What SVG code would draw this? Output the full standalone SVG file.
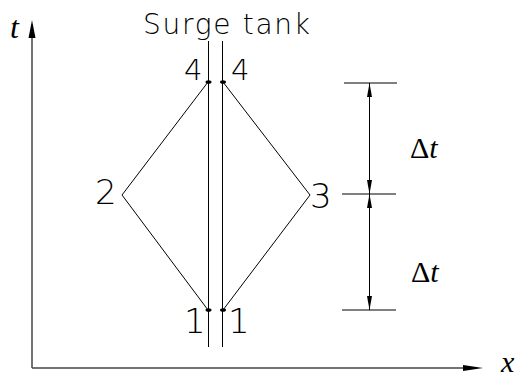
<svg xmlns="http://www.w3.org/2000/svg" width="518" height="378" viewBox="0 0 518 378">
<style>
.ln{stroke:#000;stroke-width:1;fill:none}
.ax{stroke:#444;stroke-width:1.5;fill:none}
.cad{font-family:"DejaVu Sans","Liberation Sans",sans-serif;font-weight:200;fill:#000}
.tm{font-family:"Liberation Serif","Times New Roman",serif;fill:#000}
.it{font-style:italic}
</style>
<defs>
<marker id="dim" viewBox="0 0 14 5" refX="14" refY="2.5" markerWidth="14" markerHeight="5" markerUnits="userSpaceOnUse" orient="auto">
<path d="M0,0 L14,2.5 L0,5 Z" fill="#000"/>
</marker>
</defs>
<rect width="518" height="378" fill="#fff"/>
<g id="axes">
<line class="ax" x1="32" y1="368" x2="32" y2="36"/>
<path d="M28.5,38 L32,20 L35.5,38 Z" fill="#000"/>
<line class="ax" x1="32" y1="368" x2="465" y2="368"/>
<path d="M463,365 L483,368 L463,371 Z" fill="#000"/>
<text class="tm it" x="10" y="38" font-size="32">t</text>
<text class="tm it" x="501" y="372" font-size="30">x</text>
</g>
<g id="surge-tank">
<line class="ln" x1="208.5" y1="41" x2="208.5" y2="347"/>
<line class="ln" x1="222.5" y1="41" x2="222.5" y2="347"/>
<text class="cad" x="143" y="34" font-size="28" textLength="167" lengthAdjust="spacing">Surge tank</text>
</g>
<g id="connectors">
<polyline class="ln" points="208,82 122,195 208,310"/>
<polyline class="ln" points="223,82 310,195 223,310"/>
</g>
<g id="node-4-left">
<ellipse cx="208.5" cy="82" rx="3" ry="1.8" fill="#000"/>
<text class="cad" x="184" y="80" font-size="29">4</text>
</g>
<g id="node-4-right">
<ellipse cx="223" cy="82" rx="3" ry="1.8" fill="#000"/>
<text class="cad" x="231" y="80" font-size="29">4</text>
</g>
<g id="node-1-left">
<ellipse cx="208.5" cy="310" rx="3" ry="1.8" fill="#000"/>
<text class="cad" x="184" y="333" font-size="34">1</text>
</g>
<g id="node-1-right">
<ellipse cx="223" cy="310" rx="3" ry="1.8" fill="#000"/>
<text class="cad" x="228" y="333" font-size="34">1</text>
</g>
<g id="node-2">
<text class="cad" x="95" y="204" font-size="34">2</text>
</g>
<g id="node-3">
<text class="cad" x="310" y="208" font-size="34">3</text>
</g>
<g id="dimension">
<line class="ln" x1="344" y1="83" x2="397" y2="83"/>
<line class="ln" x1="342" y1="194" x2="396" y2="194"/>
<line class="ln" x1="342" y1="310" x2="396" y2="310"/>
<line class="ln" x1="369.5" y1="138" x2="369.5" y2="83" marker-end="url(#dim)"/>
<line class="ln" x1="369.5" y1="138" x2="369.5" y2="194" marker-end="url(#dim)"/>
<line class="ln" x1="369.5" y1="252" x2="369.5" y2="194" marker-end="url(#dim)"/>
<line class="ln" x1="369.5" y1="252" x2="369.5" y2="310" marker-end="url(#dim)"/>
<text class="tm" x="410" y="158" font-size="30">Δ<tspan class="it">t</tspan></text>
<text class="tm" x="411" y="282" font-size="30">Δ<tspan class="it">t</tspan></text>
</g>
</svg>
